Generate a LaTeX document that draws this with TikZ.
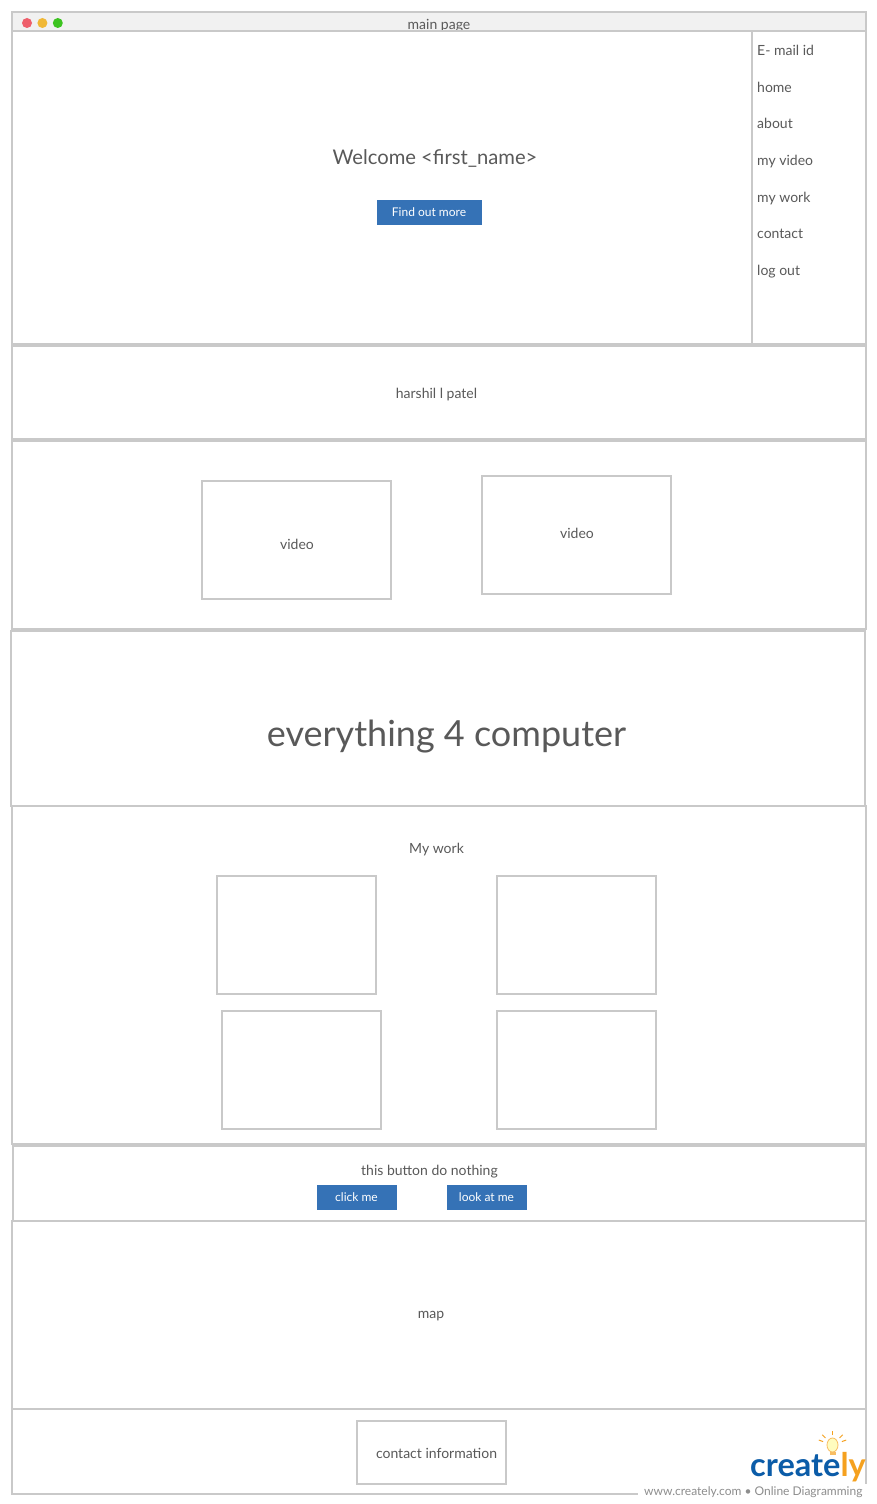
\documentclass[tikz,border=0pt]{standalone}
\usepackage{fontspec}
\setmainfont{Lato}
\usepackage{tikz}
\usetikzlibrary{calc,positioning,shapes.geometric}
\definecolor{framegray}{HTML}{C9C9C9}
\definecolor{bargray}{HTML}{F1F1F1}
\definecolor{textgray}{HTML}{595959}
\definecolor{btnblue}{HTML}{3572B6}
\definecolor{logoblue}{HTML}{0B5CA8}
\definecolor{logoorange}{HTML}{F5A11F}
\definecolor{dotred}{HTML}{EE5F6B}
\definecolor{dotamber}{HTML}{F0B836}
\definecolor{dotgreen}{HTML}{3CC320}

\begin{document}
\begin{tikzpicture}[
        x=1pt, y=-1pt,
        panel/.style={draw=framegray, line width=2pt, fill=white, anchor=north west, inner sep=0pt, outer sep=0pt, text=textgray, font=\fontsize{14}{16}\selectfont},
        thumb/.style={panel, minimum width=#1, minimum height=117.5pt},
        label/.style={text=textgray, font=\fontsize{14}{16}\selectfont, inner sep=0pt},
        menuitem/.style={label, anchor=west},
        btn/.style={fill=btnblue, text=white, minimum height=25pt, inner sep=0pt, font=\fontsize{12}{14}\selectfont},
        dot/.style={circle, minimum size=10pt, inner sep=0pt}
    ]
        \useasboundingbox (0,0) rectangle (876,1504);
        % browser window
        \node[panel, fill=bargray, minimum width=854pt, minimum height=19pt] (bar) at (12,12) {};
        \node[label] (title) at (439,25.5) {main page};
        \node[dot, fill=dotred] (red) at (27,23) {};
        \node[dot, fill=dotamber, right=5pt of red] (amber) {};
        \node[dot, fill=dotgreen, right=5pt of amber] (lime) {};
        \node[panel, minimum width=740pt, minimum height=313pt] (main) at (12,31) {};
        \node[panel, minimum width=114pt, minimum height=313pt] (side) at (752,31) {};
        \node[label, font=\fontsize{20.2}{24}\selectfont] (welcome) at (435,158) {Welcome <first\_name>};
        \node[btn, minimum width=105pt] (more) at (429,212.5) {\raisebox{-1pt}{Find out more}};
        % side menu
        \node[menuitem] (mail) at (757,50) {E- mail id};
        \node[menuitem] (home) at (757,87) {home};
        \node[menuitem] (about) at (757,123) {about};
        \node[menuitem] (myvideo) at (757,162) {my video};
        \node[menuitem] (mywork) at (757,199) {my work};
        \node[menuitem] (contact) at (757,234) {contact};
        \node[menuitem] (logout) at (757,272) {log out};
        % sections
        \node[panel, minimum width=854pt, minimum height=93.5pt] (name) at (12,345.5) {};
        \node[label] (namet) at (436.5,394.5) {harshil l patel};
        \node[panel, minimum width=854pt, minimum height=188.5pt] (videos) at (12,440.5) {};
        \node[panel, minimum width=189pt, minimum height=118pt] (videoa) at (202,481) {};
        \node[label] at (297,544) {video};
        \node[panel, minimum width=189pt, minimum height=118pt] (videob) at (482,476) {};
        \node[label] at (577,533) {video};
        \node[panel, minimum width=854pt, minimum height=338pt] (work) at (12,806) {};
        \node[panel, minimum width=854pt, minimum height=175pt] (slogan) at (11,631) {};
        \node[label, font=\fontsize{36}{42}\selectfont] (slogant) at (446.5,737) {everything 4 computer};
        \node[label] (workt) at (436.5,850) {My work};
        \node[thumb=159pt] (worka) at (217,876) {};
        \node[thumb=159pt] (workb) at (497,876) {};
        \node[thumb=159pt] (workc) at (222,1011) {};
        \node[thumb=159pt] (workd) at (497,1011) {};
        \node[panel, minimum width=853pt, minimum height=75pt] (buttons) at (13,1146) {};
        \node[label] (nothing) at (429.5,1172) {this button do nothing};
        \node[btn, minimum width=80pt] (click) at (356.5,1197.5) {\raisebox{-1pt}{click me}};
        \node[btn, minimum width=80pt] (look) at (486.5,1197.5) {\raisebox{-1pt}{look at me}};
        \node[panel, minimum width=854pt, minimum height=188pt] (map) at (12,1221) {};
        \node[label] (mapt) at (431,1316) {map};
        \node[panel, minimum width=854pt, minimum height=85pt] (foot) at (12,1409) {};
        \node[panel, minimum width=149pt, minimum height=63pt] (info) at (357,1421) {};
        \node[label] (infot) at (436.5,1453) {contact information};
        % creately logo
        \fill[white] (638,1484) rectangle (868,1500);
        \node[anchor=base west, inner sep=0pt, text=logoblue, font=\fontsize{32.5}{38}\selectfont\bfseries] (logo) at (750,1476) {creat\textcolor{logoblue}{e}\textcolor{logoorange}{ly}};
        \node[anchor=base west, inner sep=0pt, text=framegray!70!black, font=\fontsize{12}{14}\selectfont] (web) at (644,1495) {www.creately.com • Online Diagramming};
        \node[ellipse, draw=logoorange!70, fill=yellow!25, line width=0.8pt, minimum width=11pt, minimum height=14pt, inner sep=0pt] (bulb) at (832.5,1445) {};
        \fill[logoorange!70] (829.5,1451.5) rectangle (835.5,1455);
        \foreach \ang in {-20,-45,-90,-135,-160}
            \draw[logoorange, line width=1pt] ($(bulb)+(\ang:-10pt)$) -- ($(bulb)+(\ang:-14.5pt)$);
    \end{tikzpicture}
\end{document}
